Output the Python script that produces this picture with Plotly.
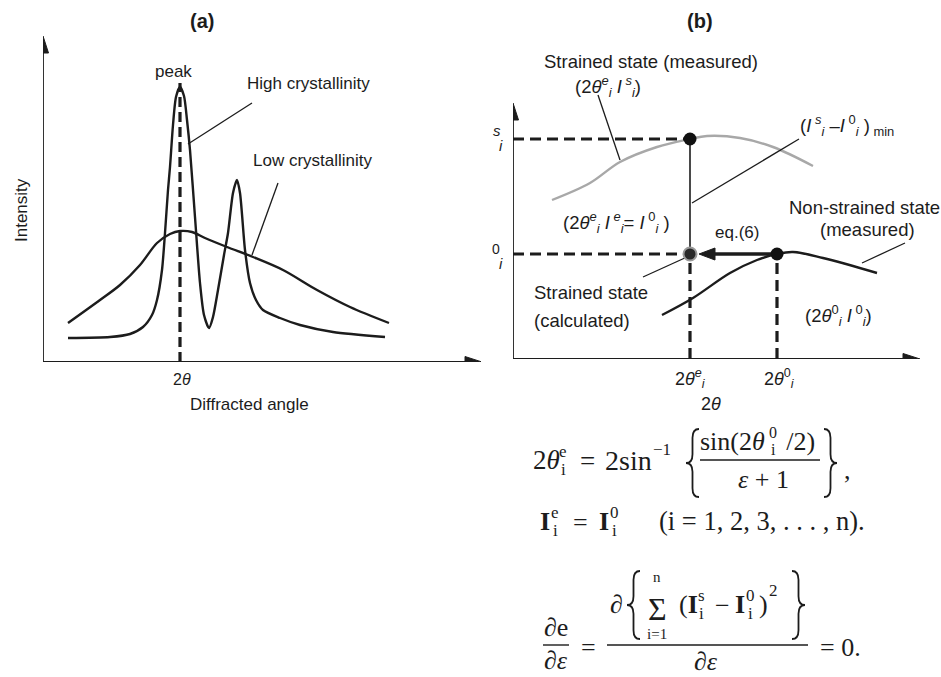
import plotly.graph_objects as go

W, H = 941, 677
SANS = "Liberation Sans, Arial, sans-serif"
SERIF = "Liberation Serif, Times New Roman, serif"
INK = "#1c1c1c"

# ---------------- data ----------------
# Panel (a): diffraction profiles (2θ and intensity in arbitrary units)
a_high_x = [25, 67, 87, 100, 109, 114, 119, 122, 125, 127, 130, 133, 137, 141, 144, 147, 152, 157, 161, 166,
            170, 175, 181, 185, 190, 194, 197, 202, 207, 213, 220, 237, 257, 290, 342]
a_high_y = [24, 25, 28, 35, 47, 62, 92, 129, 172, 195, 237, 265, 275, 266, 242, 212, 145, 79, 47, 34,
            45, 72, 107, 129, 169, 182, 169, 112, 79, 62, 52, 44, 37, 30, 25]
a_low_x = [25, 57, 77, 97, 114, 127, 137, 149, 162, 184, 210, 240, 274, 307, 346]
a_low_y = [39, 62, 77, 97, 119, 128, 131, 130, 124, 115, 105, 92, 72, 55, 39]
a_peak_x = 137
a_peak_top = 279
a_xmax, a_ymax = 439, 326
a_lead_high = ([145, 209], [218, 259])
a_lead_low = ([209, 235], [107, 179])

# Panel (b): strained / non-strained profiles
b_s_x = [39, 77, 107, 144, 177, 194, 227, 260, 300]
b_s_y = [159, 176, 197, 212, 220, 223, 221, 212, 193]
b_0_x = [149, 180, 217, 244, 264, 280, 310, 364]
b_0_y = [44, 61, 86, 99, 105, 107, 101, 86]
b_theta_e, b_theta_0 = 177, 264
b_Is, b_I0 = 220, 105
b_xmax, b_ymax = 407, 256
b_lead_meas = ([85, 107], [264, 199])
b_lead_min = ([179, 286], [156, 220])
b_lead_non = ([349, 392], [96, 116])
b_lead_calc = ([130, 174], [82, 102])


def PX(x):
    return x / W


def PY(y):
    return 1 - y / H


fig = go.Figure()


def line(xs, ys, ax, width=1.8, color=INK, dash=None, spline=None):
    ln = dict(color=color, width=width)
    if dash:
        ln["dash"] = dash
    if spline is not None:
        ln["shape"] = "spline"
        ln["smoothing"] = spline
    xa, ya = ("x", "y") if ax == "a" else ("x2", "y2")
    fig.add_trace(go.Scatter(x=xs, y=ys, mode="lines", line=ln, xaxis=xa, yaxis=ya,
                             cliponaxis=False, hoverinfo="skip"))


# ---- panel (a) ----
line([0, 0], [0, a_ymax - 15], "a")
line([0, a_xmax - 15], [0, 0], "a")
line(a_low_x, a_low_y, "a", 2.4, spline=0.9)
line(a_high_x, a_high_y, "a", 2.4, spline=0.7)
line([a_peak_x, a_peak_x], [0, a_peak_top], "a", 3.2, dash="10px,5px")
for lx, ly in (a_lead_high, a_lead_low):
    line(lx, ly, "a", 1.3)

# ---- panel (b) ----
line([0, 0], [0, b_ymax - 15], "b")
line([0, b_xmax - 15], [0, 0], "b")
line(b_s_x, b_s_y, "b", 2.4, color="#a8a8a8", spline=1.0)
line(b_0_x, b_0_y, "b", 2.4, spline=1.0)
for xs, ys in (([0, b_theta_e], [b_Is, b_Is]), ([0, b_theta_e], [b_I0, b_I0]),
               ([b_theta_e, b_theta_e], [0, b_I0]), ([b_theta_0, b_theta_0], [0, b_I0])):
    line(xs, ys, "b", 3.2, dash="11px,6px")
line([b_theta_e, b_theta_e], [b_Is, b_I0], "b", 1.6)
line([b_theta_0, b_theta_e + 22], [b_I0, b_I0], "b", 3.6)
for lx, ly in (b_lead_meas, b_lead_min, b_lead_non, b_lead_calc):
    line(lx, ly, "b", 1.3)
fig.add_trace(go.Scatter(x=[b_theta_e, b_theta_0], y=[b_Is, b_I0], mode="markers",
                         marker=dict(size=13, color="#111"), xaxis="x2", yaxis="y2", cliponaxis=False))
fig.add_trace(go.Scatter(x=[b_theta_e], y=[b_I0], mode="markers",
                         marker=dict(size=13, color="#2a2a2a", line=dict(color="#9a9a9a", width=2)),
                         xaxis="x2", yaxis="y2", cliponaxis=False))

# ---- shapes: arrowheads, fraction bars, braces ----
shapes = []


def head(tx, ty, dx, dy, L, hw, xr, yr):
    bx, by = tx - dx * L, ty - dy * L
    px_, py_ = -dy, dx
    p = f"M {tx},{ty} L {bx + px_ * hw},{by + py_ * hw} L {bx - px_ * hw},{by - py_ * hw} Z"
    shapes.append(dict(type="path", path=p, xref=xr, yref=yr, fillcolor=INK, line=dict(color=INK, width=1)))


head(0, a_ymax, 0, 1, 17, 5.5, "x", "y")
head(a_xmax, 0, 1, 0, 17, 5.5, "x", "y")
head(0, b_ymax, 0, 1, 17, 5.5, "x2", "y2")
head(b_xmax, 0, 1, 0, 17, 5.5, "x2", "y2")
head(b_theta_e + 9, b_I0, -1, 0, 16, 6, "x2", "y2")


def hbar(x0, x1, y, w=1.4):
    shapes.append(dict(type="line", xref="paper", yref="paper", x0=PX(x0), x1=PX(x1), y0=PY(y), y1=PY(y),
                       line=dict(color=INK, width=w)))


def brace(x0, x1, y0, y1, left=True):
    xm = (x0 + x1) / 2
    ym = (y0 + y1) / 2
    k = 0.13 * (y1 - y0)
    tip, end = (x0, x1) if left else (x1, x0)
    pts = [("M", [(end, y0)]), ("Q", [(xm, y0), (xm, y0 + k)]), ("L", [(xm, ym - k)]),
           ("Q", [(xm, ym), (tip, ym)]), ("Q", [(xm, ym), (xm, ym + k)]), ("L", [(xm, y1 - k)]),
           ("Q", [(xm, y1), (end, y1)])]
    s = " ".join(c + " " + " ".join(f"{PX(a):.5f},{PY(b):.5f}" for a, b in ps) for c, ps in pts)
    shapes.append(dict(type="path", path=s, xref="paper", yref="paper", line=dict(color=INK, width=1.8)))


# ---- annotations ----
anns = []


def T(text, x, y, size=16, family=SANS, xanchor="center", angle=0, color=INK):
    anns.append(dict(text=text, x=PX(x), y=PY(y), xref="paper", yref="paper", showarrow=False,
                     xanchor=xanchor, yanchor="middle", textangle=angle,
                     font=dict(family=family, size=size, color=color)))


def S(text, x, y, size=26, xanchor="left"):
    T(text, x, y, size, SERIF, xanchor)


def scripts(x, yc, sup, sub, size=17, dy=9):
    S(sup, x, yc - dy, size, "center")
    S(sub, x, yc + dy, size, "center")


# panel titles
T("<b>(a)</b>", 202, 21, 20)
T("<b>(b)</b>", 700, 21, 20)

# panel (a)
T("peak", 173, 71, 17)
T("High crystallinity", 308, 83, 17)
T("Low crystallinity", 313, 160, 17)
T("Intensity", 22, 210, 17, angle=-90)
T("2<i>θ</i>", 182, 380, 16)
T("Diffracted angle", 250, 404, 17)

# panel (b)
PB = 18.5
T("Strained state (measured)", 651, 62, PB)
T("(2<i>θ</i><sup><i>e</i></sup><sub><i>i</i></sub> <i>I</i><sup> <i>s</i></sup><sub><i>i</i></sub>)", 608, 86, PB)
T("(<i>I</i><sup> <i>s</i></sup><sub><i>i</i></sub> –<i>I</i><sup> 0</sup><sub><i>i</i></sub> )<sub> min</sub>", 847, 125, PB)
T("(2<i>θ</i><sup><i>e</i></sup><sub><i>i</i></sub> <i>I</i><sup> <i>e</i></sup><sub><i>i</i></sub>= <i>I</i><sup> 0</sup><sub><i>i</i></sub> )", 616, 223, PB)
T("Non-strained state", 864, 208, PB)
T("(measured)", 867, 229, PB)
T("eq.(6)", 737, 232, 17)
T("Strained state", 532, 292, PB, xanchor="left")
T("(calculated)", 532, 320, PB, xanchor="left")
T("(2<i>θ</i><sup>0</sup><sub><i>i</i></sub> <i>I</i><sup> 0</sup><sub><i>i</i></sub>)", 838, 315, PB)
T("<i>s</i>", 497, 130, 15)
T("<i>i</i>", 501, 145, 15)
T("0", 496, 249, 14)
T("<i>i</i>", 501, 263, 15)
T("2<i>θ</i><sup><i>e</i></sup><sub><i>i</i></sub>", 690, 378, 18)
T("2<i>θ</i><sup>0</sup><sub><i>i</i></sub>", 779, 378, 18)
T("2<i>θ</i>", 711, 404, 18)

# ---- equation 1 ----
S("2<i>θ</i>", 531, 460, 27)
scripts(563, 460, "e", "i")
S("=", 587, 461, 27, "center")
S("2sin", 603, 460, 28)
S("−1", 651, 449, 17)
brace(686, 699, 429, 497, True)
S("sin(2<i>θ</i>", 767, 441, 26, "right")
scripts(773, 441, "0", "i", 16, 8.5)
S("\u2009/2)", 779, 441, 26)
hbar(700, 820, 460)
S("<i>ε</i> + 1", 763, 479, 26, "center")
brace(824, 837, 429, 497, False)
S(",", 842, 470, 26)

# ---- equation 2 ----
S("<b>I</b>", 538, 521, 26)
scripts(555, 521, "e", "i", 17, 9)
S("=", 580, 522, 26, "center")
S("<b>I</b>", 597, 521, 26)
scripts(614, 521, "0", "i", 17, 9)
S("(i = 1, 2, 3, . . . , n).", 657, 521, 26.5)

# ---- equation 3 ----
S("∂e", 556, 627, 26, "center")
hbar(543, 569, 645)
S("∂<i>ε</i>", 556, 660, 26, "center")
S("=", 588, 647, 26, "center")
hbar(607, 808, 645)
S("∂", 616, 604, 26, "center")
brace(627, 640, 571, 639, True)
S("Σ", 657, 609, 32, "center")
S("n", 657, 577, 15, "center")
S("i=1", 657, 634, 15, "center")
S("(<b>I</b>", 677, 604, 26)
scripts(701, 604, "s", "i", 17, 9)
S("−", 722, 605, 26, "center")
S("<b>I</b>", 733, 604, 26)
scripts(750, 604, "0", "i", 17, 9)
S(")", 757, 604, 26)
S("2", 767, 590, 17)
brace(792, 805, 571, 639, False)
S("∂<i>ε</i>", 706, 661, 26, "center")
S("= 0.", 818, 647, 26)

hidden = dict(visible=False, showgrid=False, zeroline=False, fixedrange=True)
fig.update_layout(
    width=W, height=H, autosize=False,
    margin=dict(l=0, r=0, t=0, b=0),
    paper_bgcolor="white", plot_bgcolor="rgba(0,0,0,0)",
    showlegend=False,
    xaxis=dict(hidden, range=[0, 438], domain=[43 / W, 481 / W]),
    yaxis=dict(hidden, range=[0, 330], domain=[(H - 362) / H, (H - 32) / H]),
    xaxis2=dict(hidden, range=[0, 407], domain=[513 / W, 920 / W], anchor="y2"),
    yaxis2=dict(hidden, range=[0, 280], domain=[(H - 359) / H, (H - 79) / H], anchor="x2"),
    shapes=shapes,
    annotations=anns,
)

fig.write_html("out.html")
